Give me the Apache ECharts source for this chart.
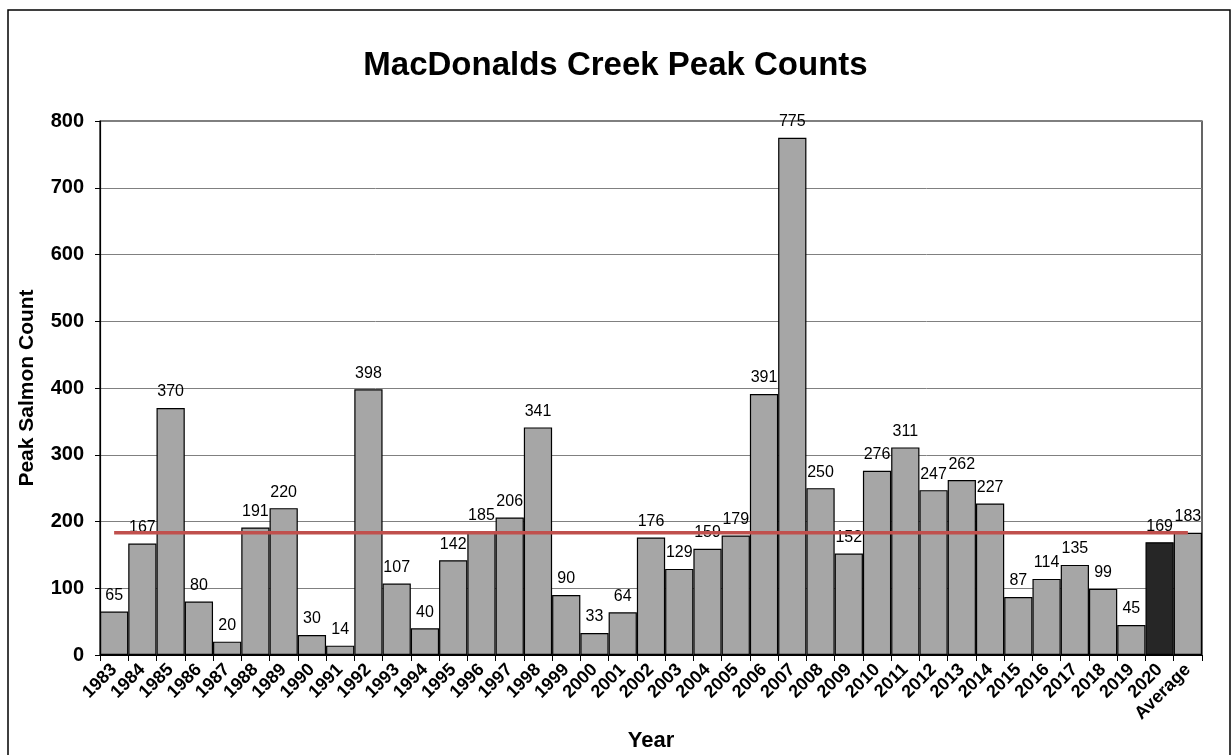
<!DOCTYPE html>
<html><head><meta charset="utf-8">
<script src="https://cdn.jsdelivr.net/npm/echarts@6/dist/echarts.min.js"></script>
<style>html,body{margin:0;padding:0;background:#fff}#c{width:1231px;height:755px}</style>
</head><body><div id="c"></div>
<script>
const years = ['1983','1984','1985','1986','1987','1988','1989','1990','1991','1992','1993','1994','1995','1996','1997','1998','1999','2000','2001','2002','2003','2004','2005','2006','2007','2008','2009','2010','2011','2012','2013','2014','2015','2016','2017','2018','2019','2020','Average'];
const counts = [65,167,370,80,20,191,220,30,14,398,107,40,142,185,206,341,90,33,64,176,129,159,179,391,775,250,152,276,311,247,262,227,87,114,135,99,45,169,183];
const averageValue = 183;
const highlightYear = '2020';
const yTicks = {min:0, max:800, interval:100};

const FONT = 'Liberation Sans, Arial, sans-serif';
const chart = echarts.init(document.getElementById('c'));
chart.setOption({
  animation:false,
  backgroundColor:'#fff',
  title:{text:'MacDonalds Creek Peak Counts',left:'center',top:44,
    textStyle:{fontFamily:FONT,fontSize:33,fontWeight:'bold',color:'#000'}},
  graphic:[{type:'rect',shape:{x:8,y:10,width:1222,height:760},
    style:{fill:'none',stroke:'#000',lineWidth:1.5},silent:true}],
  grid:{left:100,top:121,right:29,bottom:100,containLabel:false,outerBoundsMode:'none',
    show:true,borderColor:'#000',borderWidth:1.2,backgroundColor:'#fff'},
  xAxis:{type:'category',data:years,
    name:'Year',nameLocation:'middle',nameGap:72,
    nameTextStyle:{fontFamily:FONT,fontSize:22,fontWeight:'bold',color:'#000'},
    axisLine:{lineStyle:{color:'#000',width:1.2}},
    axisTick:{show:true,alignWithLabel:false,length:6,lineStyle:{color:'#000'}},
    axisLabel:{rotate:45,interval:0,fontFamily:FONT,fontSize:18,fontWeight:'bold',color:'#000',margin:12}},
  yAxis:{type:'value',min:yTicks.min,max:yTicks.max,interval:yTicks.interval,
    name:'Peak Salmon Count',nameLocation:'middle',nameGap:62,nameRotate:90,
    nameTextStyle:{fontFamily:FONT,fontSize:21,fontWeight:'bold',color:'#000'},
    axisLine:{show:true,lineStyle:{color:'#000',width:1.2}},
    axisTick:{show:true,length:5,lineStyle:{color:'#000'}},
    splitLine:{lineStyle:{color:'#808080',width:1}},
    axisLabel:{fontFamily:FONT,fontSize:20,fontWeight:'bold',color:'#000',margin:16}},
  series:[
    {type:'bar',barCategoryGap:'0%',
     data:counts.map((v,i)=>({value:v,itemStyle:{color: years[i]===highlightYear?'#262626':'#a6a6a6'}})),
     itemStyle:{borderColor:'#000',borderWidth:1.2},
     label:{show:true,position:'top',distance:8,fontFamily:FONT,fontSize:16,color:'#000'},
     z:2},
    {type:'line',data:years.map(()=>averageValue),symbol:'none',
     lineStyle:{color:'#c0504d',width:3.5},z:3,silent:true}
  ]
});
</script></body></html>
